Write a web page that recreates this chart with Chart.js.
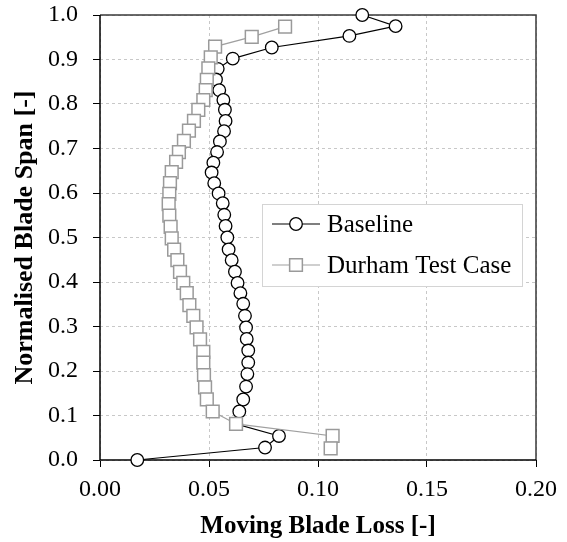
<!DOCTYPE html>
<html>
<head>
<meta charset="utf-8">
<script src="https://cdn.jsdelivr.net/npm/chart.js@4/dist/chart.umd.min.js"></script>
<style>
html,body{margin:0;padding:0;background:#fff;}
#wrap{width:567px;height:542px;}
</style>
</head>
<body>
<div id="wrap"><canvas id="c" width="567" height="542"></canvas></div>
<script>
const seriesNames = ["Baseline", "Durham Test Case"];
const baselineLoss = [0.1203, 0.1356, 0.1144, 0.0788, 0.0609, 0.0540, 0.0532, 0.0547, 0.0566, 0.0573, 0.0576, 0.0569, 0.0550, 0.0537, 0.0520, 0.0512, 0.0524, 0.0544, 0.0563, 0.0570, 0.0576, 0.0584, 0.0590, 0.0604, 0.0619, 0.0631, 0.0644, 0.0657, 0.0665, 0.0670, 0.0673, 0.0680, 0.0680, 0.0676, 0.0670, 0.0657, 0.0639, 0.0625, 0.0821, 0.0757, 0.0171];
const baselineSpan = [1.000, 0.975, 0.953, 0.927, 0.902, 0.879, 0.855, 0.831, 0.809, 0.787, 0.762, 0.739, 0.716, 0.692, 0.668, 0.646, 0.622, 0.599, 0.577, 0.551, 0.526, 0.500, 0.473, 0.449, 0.423, 0.398, 0.375, 0.351, 0.324, 0.298, 0.272, 0.246, 0.219, 0.193, 0.165, 0.136, 0.109, 0.081, 0.054, 0.028, 0.000];
const durhamLoss = [0.0849, 0.0696, 0.0528, 0.0508, 0.0497, 0.0490, 0.0485, 0.0474, 0.0451, 0.0431, 0.0408, 0.0385, 0.0362, 0.0349, 0.0329, 0.0321, 0.0318, 0.0315, 0.0318, 0.0324, 0.0329, 0.0340, 0.0355, 0.0367, 0.0382, 0.0398, 0.0410, 0.0428, 0.0443, 0.0459, 0.0474, 0.0474, 0.0477, 0.0482, 0.0490, 0.0517, 0.0624, 0.1067, 0.1058];
const durhamSpan = [0.974, 0.951, 0.929, 0.905, 0.880, 0.854, 0.831, 0.809, 0.787, 0.762, 0.740, 0.717, 0.692, 0.670, 0.647, 0.622, 0.598, 0.575, 0.549, 0.524, 0.498, 0.473, 0.449, 0.423, 0.398, 0.375, 0.348, 0.324, 0.298, 0.271, 0.243, 0.219, 0.191, 0.163, 0.136, 0.109, 0.081, 0.054, 0.026];
const xTicks = [0.00, 0.05, 0.10, 0.15, 0.20];
const yTicks = [0.0, 0.1, 0.2, 0.3, 0.4, 0.5, 0.6, 0.7, 0.8, 0.9, 1.0];
const xTitle = "Moving Blade Loss [-]";
const yTitle = "Normalised Blade Span [-]";

const FONT = "'Liberation Serif', 'Times New Roman', serif";

function toPoints(xs, ys){ return xs.map((x,i)=>({x:x, y:ys[i]})); }

const framePlugin = {
  id: 'frame',
  beforeDatasetsDraw(chart){
    const a = chart.chartArea, ctx = chart.ctx;
    ctx.save();
    ctx.strokeStyle = '#3a3a3a';
    ctx.lineWidth = 1.5;
    ctx.beginPath();
    ctx.moveTo(a.left, a.top); ctx.lineTo(a.right, a.top); ctx.lineTo(a.right, a.bottom);
    ctx.stroke();
    ctx.strokeStyle = '#000';
    ctx.beginPath();
    ctx.moveTo(a.left, a.top); ctx.lineTo(a.left, a.bottom); ctx.lineTo(a.right, a.bottom);
    ctx.stroke();
    ctx.restore();
  }
};

const legendPlugin = {
  id: 'boxLegend',
  afterDatasetsDraw(chart){
    const ctx = chart.ctx;
    const bx = 262, by = 204, bw = 260, bh = 82;
    ctx.save();
    ctx.fillStyle = '#fff';
    ctx.fillRect(bx, by, bw, bh);
    ctx.strokeStyle = '#d4d4d4';
    ctx.lineWidth = 1;
    ctx.strokeRect(bx + 0.5, by + 0.5, bw, bh);
    const rows = [224, 265];
    chart.data.datasets.forEach((ds, i) => {
      const y = rows[i];
      ctx.strokeStyle = ds.borderColor;
      ctx.lineWidth = ds.borderWidth;
      ctx.beginPath(); ctx.moveTo(272, y); ctx.lineTo(320, y); ctx.stroke();
      ctx.fillStyle = ds.pointBackgroundColor;
      ctx.strokeStyle = ds.pointBorderColor;
      ctx.lineWidth = ds.pointBorderWidth;
      ctx.beginPath();
      if (ds.pointStyle === 'circle') { ctx.arc(296, y, ds.pointRadius, 0, Math.PI*2); }
      else { const s = Math.SQRT1_2 * ds.pointRadius; ctx.rect(296 - s, y - s, 2*s, 2*s); }
      ctx.fill(); ctx.stroke();
      ctx.fillStyle = '#000';
      ctx.font = "25px " + FONT;
      ctx.textBaseline = 'middle';
      ctx.textAlign = 'left';
      ctx.fillText(ds.label, 327, y + 1);
    });
    ctx.restore();
  }
};

new Chart(document.getElementById('c'), {
  type: 'scatter',
  data: {
    datasets: [
      {
        label: seriesNames[0],
        data: toPoints(baselineLoss, baselineSpan),
        showLine: true,
        borderColor: '#000',
        borderWidth: 1.2,
        pointStyle: 'circle',
        pointRadius: 6.3,
        pointBorderWidth: 1.3,
        pointBorderColor: '#000',
        pointBackgroundColor: '#fff',
        order: 1,
        clip: false
      },
      {
        label: seriesNames[1],
        data: toPoints(durhamLoss, durhamSpan),
        showLine: true,
        borderColor: '#a0a0a0',
        borderWidth: 1.2,
        pointStyle: 'rect',
        pointRadius: 9,
        pointBorderWidth: 1.5,
        pointBorderColor: '#9a9a9a',
        pointBackgroundColor: '#fff',
        order: 0,
        clip: false
      }
    ]
  },
  options: {
    responsive: false,
    animation: false,
    events: [],
    layout: { padding: { top: 15, right: 31, left: 0, bottom: 0 } },
    plugins: { legend: { display: false }, tooltip: { enabled: false } },
    scales: {
      x: {
        type: 'linear', min: 0, max: 0.2,
        afterBuildTicks(s){ s.ticks = xTicks.map(v => ({value: v})); },
        afterFit(s){ s.height = 82; s.paddingLeft = 0; s.paddingRight = 0; },
        grid: { color: '#c8c8c8', lineWidth: 1, tickColor: '#000', tickLength: 7, tickBorderDash: [] },
        border: { display: false, dash: [3, 3] },
        ticks: { color: '#000', font: { family: FONT, size: 24 }, padding: 8, maxRotation: 0,
                 callback: v => Number(v).toFixed(2) },
        title: { display: true, text: xTitle, color: '#000', font: { family: FONT, size: 25, weight: 'bold' },
                 padding: { top: 0, bottom: 0 } }
      },
      y: {
        type: 'linear', min: 0, max: 1,
        afterBuildTicks(s){ s.ticks = yTicks.map(v => ({value: v})); },
        afterFit(s){ s.width = 100; s.paddingTop = 0; s.paddingBottom = 0; },
        grid: { color: '#c8c8c8', lineWidth: 1, tickColor: '#000', tickLength: 7, tickBorderDash: [] },
        border: { display: false, dash: [3, 3] },
        ticks: { color: '#000', font: { family: FONT, size: 24 }, padding: 15,
                 callback: v => Number(v).toFixed(1) },
        title: { display: true, text: yTitle, color: '#000', font: { family: FONT, size: 26, weight: 'bold' },
                 padding: { top: 10, bottom: 0 } }
      }
    }
  },
  plugins: [framePlugin, legendPlugin]
});
</script>
</body>
</html>
